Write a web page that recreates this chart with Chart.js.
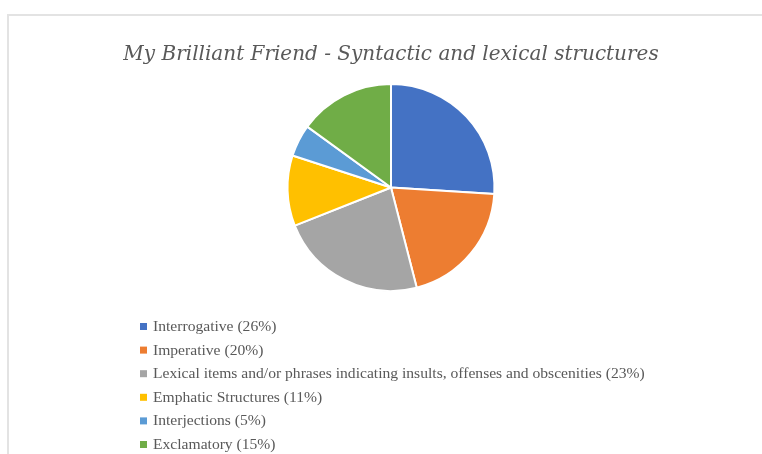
<!DOCTYPE html>
<html>
<head>
<meta charset="utf-8">
<script src="https://cdn.jsdelivr.net/npm/chart.js@4"></script>
<style>
  html, body { margin: 0; padding: 0; background: #fff; }
  #wrap { position: relative; width: 762px; height: 454px; }
</style>
</head>
<body>
<div id="wrap"><canvas id="c" width="762" height="454"></canvas></div>
<script>
const titleText = 'My Brilliant Friend - Syntactic and lexical structures';
const categories = [
  'Interrogative',
  'Imperative',
  'Lexical items and/or phrases indicating insults, offenses and obscenities',
  'Emphatic Structures',
  'Interjections',
  'Exclamatory'
];
const shares = [26, 20, 23, 11, 5, 15];
const sliceColors = ['#4472C4', '#ED7D31', '#A5A5A5', '#FFC000', '#5B9BD5', '#70AD47'];

// frame around the chart (light gray, top and left edges visible)
const framePlugin = {
  id: 'frame',
  beforeDraw(chart) {
    const ctx = chart.ctx;
    ctx.save();
    ctx.strokeStyle = '#e3e3e3';
    ctx.lineWidth = 2;
    ctx.strokeRect(8, 15, chart.width + 10, chart.height + 10);
    ctx.restore();
  }
};

// vertical legend below the pie, one entry per row
const listLegendPlugin = {
  id: 'listLegend',
  afterDraw(chart) {
    const ctx = chart.ctx;
    const ds = chart.data.datasets[0];
    const x0 = 140;
    const y0 = 326;
    const step = 23.6;
    ctx.save();
    ctx.font = '15.6px "Liberation Serif", "Times New Roman", serif';
    ctx.textBaseline = 'middle';
    chart.data.labels.forEach((lab, i) => {
      const y = y0 + i * step;
      ctx.fillStyle = ds.backgroundColor[i];
      ctx.fillRect(x0, y - 3, 7, 7);
      ctx.fillStyle = '#595959';
      ctx.fillText(`${lab} (${ds.data[i]}%)`, x0 + 13, y + 1);
    });
    ctx.restore();
  }
};

new Chart(document.getElementById('c').getContext('2d'), {
  type: 'pie',
  data: {
    labels: categories,
    datasets: [{
      data: shares,
      backgroundColor: sliceColors,
      borderColor: '#ffffff',
      borderWidth: 2
    }]
  },
  options: {
    responsive: false,
    animation: false,
    layout: { padding: { top: 0, bottom: 162, left: 20, right: 0 } },
    plugins: {
      legend: { display: false },
      tooltip: { enabled: false },
      title: {
        display: true,
        text: titleText,
        color: '#595959',
        font: { family: '"DejaVu Serif", serif', size: 20, style: 'italic', weight: 'normal', lineHeight: 1.2 },
        padding: { top: 43, bottom: 16 }
      }
    }
  },
  plugins: [framePlugin, listLegendPlugin]
});
</script>
</body>
</html>
